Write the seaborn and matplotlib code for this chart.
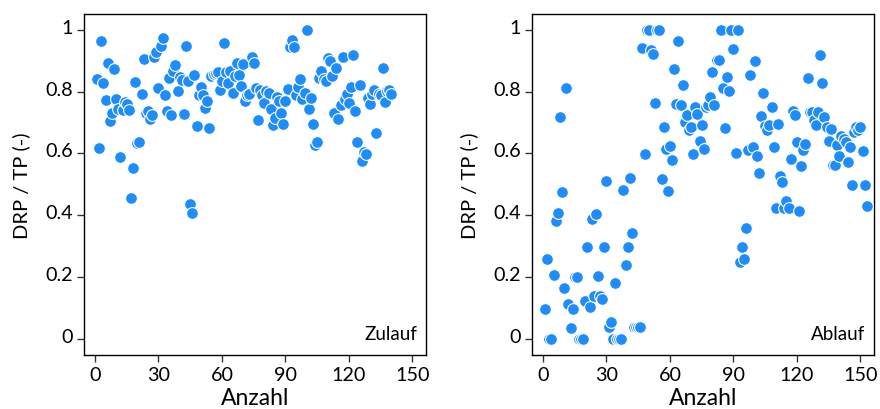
import numpy as np
import pandas as pd
import matplotlib
matplotlib.use("Agg")
import matplotlib.pyplot as plt
import matplotlib.transforms as mtransforms
from matplotlib.ticker import FixedLocator, FuncFormatter
import seaborn as sns

# ---------------- data ----------------
zulauf_ratio = [
    0.840, 0.617, 0.963, 0.828, 0.774, 0.891, 0.705, 0.732, 0.874, 0.777,
    0.745, 0.590, 0.742, 0.767, 0.760, 0.742, 0.455, 0.552, 0.832, 0.634,
    0.636, 0.792, 0.905, 0.730, 0.737, 0.711, 0.724, 0.911, 0.929, 0.811,
    0.947, 0.973, 0.790, 0.738, 0.844, 0.725, 0.867, 0.885, 0.803, 0.848,
    0.836, 0.727, 0.947, 0.834, 0.435, 0.406, 0.855, 0.689, 0.790, 0.814,
    0.790, 0.748, 0.770, 0.683, 0.852, 0.856, 0.860, 0.865, 0.804, 0.834,
    0.956, 0.862, 0.828, 0.867, 0.795, 0.851, 0.894, 0.853, 0.817, 0.888,
    0.769, 0.789, 0.791, 0.912, 0.891, 0.813, 0.708, 0.805, 0.788, 0.763,
    0.801, 0.794, 0.744, 0.692, 0.714, 0.783, 0.769, 0.730, 0.695, 0.768,
    0.810, 0.943, 0.967, 0.945, 0.790, 0.816, 0.841, 0.776, 0.795, 1.000,
    0.744, 0.779, 0.696, 0.628, 0.638, 0.843, 0.866, 0.841, 0.833, 0.909,
    0.898, 0.851, 0.730, 0.876, 0.711, 0.758, 0.911, 0.776, 0.792, 0.763,
    0.814, 0.918, 0.738, 0.636, 0.822, 0.574, 0.606, 0.598, 0.778, 0.759,
    0.792, 0.806, 0.665, 0.791, 0.788, 0.877, 0.765, 0.801, 0.804, 0.792,
]

ablauf_ratio = [
    0.097, 0.260, 0.000, 0.000, 0.207, 0.380, 0.406, 0.718, 0.474, 0.165,
    0.812, 0.112, 0.034, 0.096, 0.200, 0.200, 0.000, 0.000, 0.000, 0.122,
    0.296, 0.102, 0.387, 0.138, 0.404, 0.204, 0.140, 0.129, 0.296, 0.512,
    0.040, 0.056, 0.000, 0.182, 0.000, 0.000, 0.000, 0.482, 0.239, 0.296,
    0.520, 0.342, 0.040, 0.040, 0.040, 0.040, 0.940, 0.599, 1.000, 1.000,
    0.935, 0.923, 0.764, 1.000, 1.000, 0.516, 0.684, 0.613, 0.479, 0.624,
    0.579, 0.874, 0.759, 0.964, 0.756, 0.821, 0.703, 0.725, 0.677, 0.684,
    0.599, 0.749, 0.727, 0.641, 0.692, 0.614, 0.749, 0.756, 0.784, 0.862,
    0.758, 0.903, 0.903, 1.000, 0.811, 0.681, 0.846, 0.801, 1.000, 0.937,
    0.603, 1.000, 0.248, 0.298, 0.259, 0.359, 0.612, 0.853, 0.622, 0.898,
    0.592, 0.537, 0.720, 0.797, 0.689, 0.676, 0.692, 0.750, 0.621, 0.422,
    0.695, 0.526, 0.506, 0.422, 0.446, 0.425, 0.582, 0.737, 0.724, 0.638,
    0.414, 0.558, 0.611, 0.629, 0.843, 0.735, 0.735, 0.707, 0.692, 0.735,
    0.918, 0.829, 0.717, 0.686, 0.641, 0.678, 0.564, 0.564, 0.628, 0.592,
    0.656, 0.647, 0.636, 0.573, 0.620, 0.499, 0.668, 0.686, 0.676, 0.686,
    0.607, 0.499, 0.430,
]

panel_labels = ["Zulauf", "Ablauf"]
x_ticks = [0, 30, 60, 90, 120, 150]
y_ticks = [0, 0.2, 0.4, 0.6, 0.8, 1.0]
x_label = "Anzahl"
y_label = "DRP / TP (-)"

# ---------------- style ----------------
sns.set_theme(style="white")
plt.rcParams["font.family"] = ["Lato", "DejaVu Sans"]

fig = plt.figure(figsize=(8.8, 4.1), dpi=100)
ax1 = fig.add_axes([84 / 880, 1 - 356 / 410, 342 / 880, 341 / 410])
ax2 = fig.add_axes([532 / 880, 1 - 356 / 410, 342 / 880, 341 / 410])

dfs = [
    pd.DataFrame({"Anzahl": np.arange(1, len(zulauf_ratio) + 1), "ratio": zulauf_ratio}),
    pd.DataFrame({"Anzahl": np.arange(1, len(ablauf_ratio) + 1), "ratio": ablauf_ratio}),
]

for ax, df, lab in zip([ax1, ax2], dfs, panel_labels):
    sns.scatterplot(data=df, x="Anzahl", y="ratio", ax=ax, color="#1E8CFA",
                    s=72, edgecolor="white", linewidth=0.8, legend=False, zorder=3)
    ax.set_xlim(-5.2, 156.4)
    ax.set_ylim(-0.052, 1.051)
    ax.xaxis.set_major_locator(FixedLocator(x_ticks))
    ax.yaxis.set_major_locator(FixedLocator(y_ticks))
    ax.yaxis.set_major_formatter(FuncFormatter(lambda v, p: f"{v:g}"))
    ax.tick_params(axis="both", which="major", direction="out", length=5,
                   width=1.0, color="#333333", labelsize=14.2, pad=3,
                   left=True, bottom=True, labelcolor="black")
    for sp in ax.spines.values():
        sp.set_visible(True)
        sp.set_color("black")
        sp.set_linewidth(1.0)
    ax.set_xlabel(x_label, fontsize=16.5, labelpad=3, color="black")
    ax.set_ylabel(y_label, fontsize=14.5, labelpad=11, color="black")
    ax.text(0.975, 0.047, lab, transform=ax.transAxes, ha="right", va="baseline",
            fontsize=13.5, color="black")
    # Excel-like upward shift of y tick labels
    offset = mtransforms.ScaledTranslation(0, 4 / 100, fig.dpi_scale_trans)
    for t in ax.get_yticklabels():
        t.set_transform(t.get_transform() + offset)
    ax.grid(False)

fig.savefig("out.png", dpi=100)
